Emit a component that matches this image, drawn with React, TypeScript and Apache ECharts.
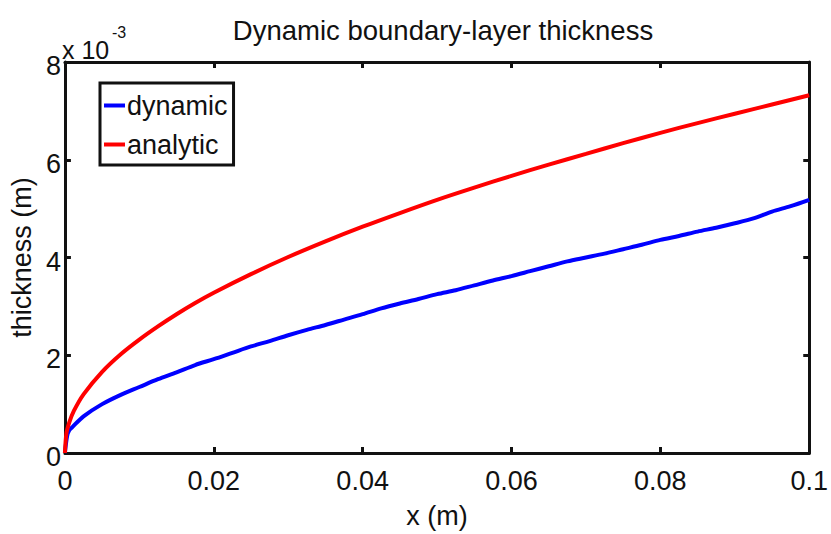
import React, { useEffect, useRef } from "react";
import * as echarts from "echarts";

// Boundary-layer thickness along the plate, thickness in units of 1e-3 m.
const dynamicX = [
  0, 0.0003, 0.0006, 0.001, 0.0025, 0.005, 0.0075, 0.01, 0.0125, 0.015, 0.0175,
  0.02, 0.0225, 0.025, 0.0275, 0.03, 0.0325, 0.035, 0.0375, 0.04, 0.0425, 0.045,
  0.0475, 0.05, 0.0525, 0.055, 0.0575, 0.06, 0.0625, 0.065, 0.0675, 0.07, 0.0725,
  0.075, 0.0775, 0.08, 0.0825, 0.085, 0.0875, 0.09, 0.0925, 0.095, 0.0975, 0.1,
];
const dynamicThickness = [
  0, 0.35, 0.47, 0.53, 0.75, 1.0, 1.19, 1.35, 1.51, 1.65, 1.8,
  1.92, 2.05, 2.18, 2.29, 2.41, 2.52, 2.62, 2.73, 2.84, 2.96, 3.06,
  3.15, 3.25, 3.33, 3.43, 3.53, 3.62, 3.72, 3.82, 3.92, 4.0, 4.08,
  4.17, 4.26, 4.36, 4.44, 4.53, 4.61, 4.7, 4.8, 4.94, 5.05, 5.18,
];

const analyticX = [
  0, 0.0002, 0.0006, 0.0012, 0.0025, 0.005, 0.0075, 0.01, 0.0125, 0.015, 0.0175,
  0.02, 0.025, 0.03, 0.035, 0.04, 0.045, 0.05, 0.055, 0.06, 0.065, 0.07, 0.075,
  0.08, 0.085, 0.09, 0.095, 0.1,
];
const analyticThickness = [
  0, 0.4, 0.63, 0.86, 1.2, 1.66, 2.02, 2.32, 2.59, 2.84, 3.07,
  3.28, 3.66, 4.01, 4.33, 4.63, 4.91, 5.18, 5.43, 5.67, 5.9, 6.12, 6.34,
  6.55, 6.75, 6.94, 7.13, 7.32,
];

const xTicks = { min: 0, max: 0.1, interval: 0.02 };
const yTicks = { min: 0, max: 8, interval: 2 };

const FONT = "Liberation Sans, Arial, Helvetica, sans-serif";
const INK = "#111";

export default function App() {
  const ref = useRef<HTMLDivElement>(null);

  useEffect(() => {
    if (!ref.current) return;
    const chart = echarts.init(ref.current, null, { renderer: "svg" });

    const pair = (xs: number[], ys: number[]) => xs.map((x, i) => [x, ys[i]]);

    const axisLine = { show: true, onZero: false, lineStyle: { color: INK, width: 3 } };
    const axisTick = { show: true, inside: true, length: 6, lineStyle: { color: INK, width: 3 } };

    chart.setOption({
      animation: false,
      backgroundColor: "#fff",
      textStyle: { fontFamily: FONT, color: INK },
      title: {
        text: "Dynamic boundary-layer thickness",
        left: 438,
        top: 11,
        textAlign: "center",
        textStyle: { fontFamily: FONT, fontSize: 27.5, fontWeight: "normal", color: INK },
      },
      grid: { left: 62, right: 17, top: 62, bottom: 72, containLabel: false },
      legend: {
        orient: "vertical",
        left: 100,
        top: 83,
        data: ["dynamic", "analytic"],
        icon: "rect",
        itemWidth: 21,
        itemHeight: 4,
        itemGap: 12,
        padding: [9, 6, 7, 4],
        borderColor: INK,
        borderWidth: 3,
        backgroundColor: "#fff",
        selectedMode: false,
        textStyle: { fontFamily: FONT, fontSize: 27, color: INK, padding: [0, 0, 0, -3] },
      },
      xAxis: [
        {
          type: "value",
          position: "bottom",
          ...xTicks,
          name: "x (m)",
          nameLocation: "middle",
          nameGap: 49,
          nameTextStyle: { fontFamily: FONT, fontSize: 27, color: INK },
          axisLine,
          axisTick,
          splitLine: { show: false },
          axisLabel: {
            fontFamily: FONT,
            fontSize: 27,
            color: INK,
            margin: 14,
            formatter: (v: number) => String(parseFloat(v.toFixed(2))),
          },
        },
        {
          type: "value",
          position: "top",
          ...xTicks,
          axisLine,
          axisTick,
          splitLine: { show: false },
          axisLabel: { show: false },
        },
      ],
      yAxis: [
        {
          type: "value",
          position: "left",
          ...yTicks,
          name: "thickness (m)",
          nameLocation: "middle",
          nameGap: 28,
          nameRotate: 90,
          nameTextStyle: { fontFamily: FONT, fontSize: 27, color: INK },
          axisLine,
          axisTick,
          splitLine: { show: false },
          axisLabel: {
            color: INK,
            margin: 4,
            formatter: (v: number) => `{t|${v}}`,
            rich: {
              t: { fontFamily: FONT, fontSize: 27, color: INK, padding: [8, 0, 0, 0] },
            },
          },
        },
        {
          type: "value",
          position: "right",
          ...yTicks,
          axisLine,
          axisTick,
          splitLine: { show: false },
          axisLabel: { show: false },
        },
      ],
      graphic: [
        {
          type: "text",
          left: 62,
          top: 37,
          style: { text: "x 10", fontFamily: FONT, fontSize: 25, fill: INK },
        },
        {
          type: "text",
          left: 112,
          top: 24,
          style: { text: "-3", fontFamily: FONT, fontSize: 16, fill: INK },
        },
      ],
      series: [
        {
          name: "dynamic",
          type: "line",
          data: pair(dynamicX, dynamicThickness),
          showSymbol: false,
          smooth: 0.3,
          lineStyle: { color: "#0000ff", width: 4 },
          itemStyle: { color: "#0000ff" },
          z: 3,
        },
        {
          name: "analytic",
          type: "line",
          data: pair(analyticX, analyticThickness),
          showSymbol: false,
          smooth: 0.3,
          lineStyle: { color: "#ff0000", width: 4 },
          itemStyle: { color: "#ff0000" },
          z: 3,
        },
      ],
    });

    return () => chart.dispose();
  }, []);

  return <div ref={ref} style={{ width: 831, height: 534, position: "absolute", left: 0, top: 0 }} />;
}
